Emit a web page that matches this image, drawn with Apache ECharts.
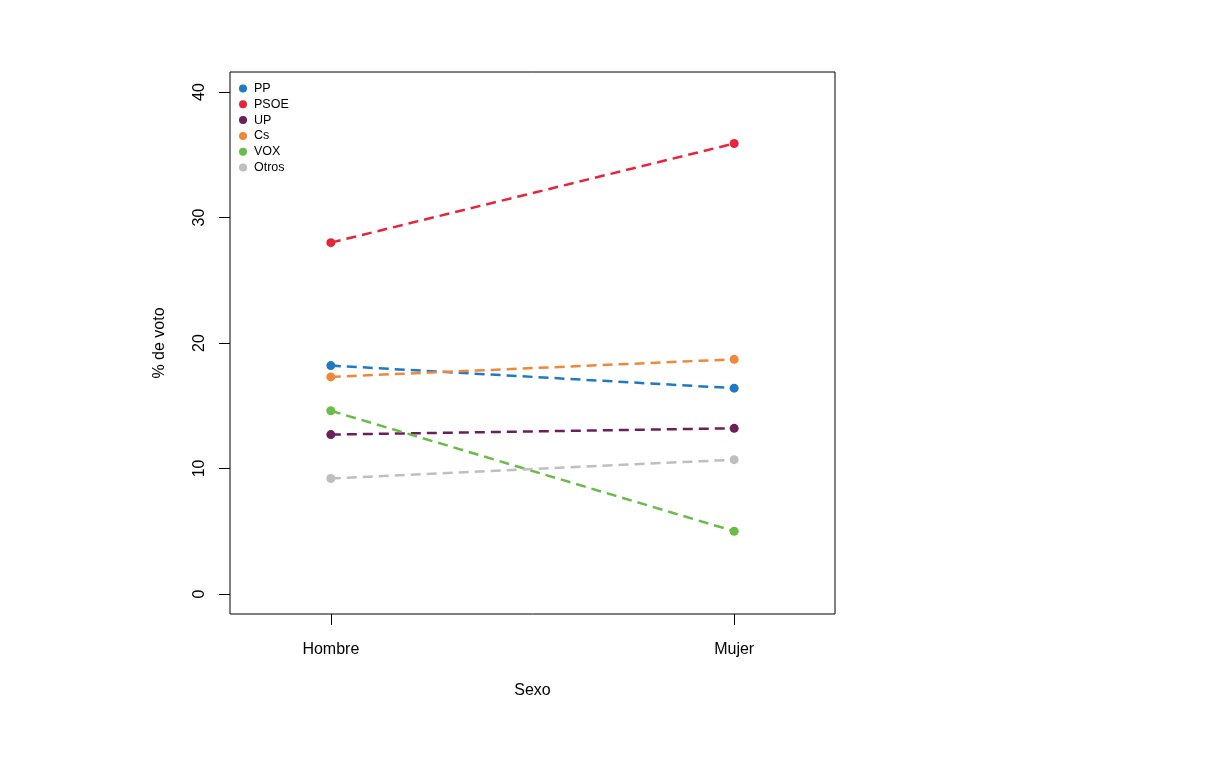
<!DOCTYPE html>
<html>
<head>
<meta charset="utf-8">
<script src="https://cdn.jsdelivr.net/npm/echarts@6/dist/echarts.min.js"></script>
<style>html,body{margin:0;padding:0;background:#fff}#c{width:1216px;height:772px}</style>
</head>
<body>
<div id="c"></div>
<script>
const categories = ['Hombre', 'Mujer'];
const parties = ['PP', 'PSOE', 'UP', 'Cs', 'VOX', 'Otros'];
const PP = [18.2, 16.4];
const PSOE = [28.0, 35.9];
const UP = [12.7, 13.2];
const Cs = [17.3, 18.7];
const VOX = [14.6, 5.0];
const Otros = [9.2, 10.7];
const yTicks = [0, 10, 20, 30, 40];
const colors = ['#1f7ac4', '#e8243b', '#6b1f5b', '#f0883a', '#67bd45', '#bfbfbf'];
const values = [PP, PSOE, UP, Cs, VOX, Otros];

const chart = echarts.init(document.getElementById('c'));
const font = 'Liberation Sans, Arial, Helvetica, sans-serif';
chart.setOption({
  animation: false,
  color: colors,
  grid: { left: 230, right: 381, top: 72, bottom: 158, show: true, borderColor: '#000', borderWidth: 1, backgroundColor: 'transparent' },
  legend: {
    orient: 'vertical', left: 234, top: 77, itemGap: 2.8, itemWidth: 8, itemHeight: 8, icon: 'circle',
    textStyle: { fontFamily: font, fontSize: 12.5, color: '#000', padding: [0, 0, 0, 2], lineHeight: 12 },
    data: parties
  },
  xAxis: {
    type: 'value', min: 0.75, max: 2.25,
    name: 'Sexo', nameLocation: 'middle', nameGap: 69,
    nameTextStyle: { fontFamily: font, fontSize: 16, color: '#000' },
    axisLine: { show: false, onZero: false },
    splitLine: { show: false },
    axisTick: { show: true, length: 11, lineStyle: { color: '#000' }, customValues: [1, 2] },
    axisLabel: { fontFamily: font, fontSize: 16, color: '#000', margin: 28, customValues: [1, 2],
      formatter: v => categories[Math.round(v) - 1] || '' }
  },
  yAxis: {
    type: 'value', min: -1.6, max: 41.6,
    name: '% de voto', nameLocation: 'middle', nameGap: 62,
    nameTextStyle: { fontFamily: font, fontSize: 16, color: '#000' },
    axisLine: { show: false, onZero: false },
    splitLine: { show: false },
    axisTick: { show: true, length: 11, lineStyle: { color: '#000' }, customValues: yTicks },
    axisLabel: { fontFamily: font, fontSize: 16, color: '#000', margin: 22, rotate: 90, customValues: yTicks }
  },
  series: parties.map((p, i) => ({
    name: p, type: 'line',
    data: values[i].map((v, j) => [j + 1, v]),
    symbol: 'circle', symbolSize: 9,
    lineStyle: { width: 2.5, type: [10, 6], color: colors[i] },
    itemStyle: { color: colors[i] }
  }))
});
</script>
</body>
</html>
